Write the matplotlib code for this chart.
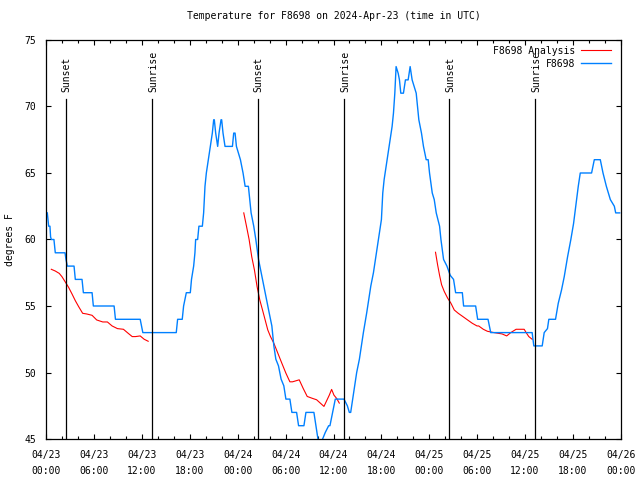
import numpy as np
import matplotlib
matplotlib.use("Agg")
import matplotlib.pyplot as plt
from matplotlib.ticker import MultipleLocator

# hours since 2024-04-23 00:00 UTC
obs_hours = [0.13, 0.3, 0.46, 0.54, 0.63, 0.96, 1.13, 2.35, 2.47, 2.64, 3.48, 3.64, 4.48, 4.65,
             5.74, 5.9, 8.5, 8.67, 11.77, 12.1, 16.29, 16.46, 17.04, 17.21, 17.55, 18.05, 18.2,
             18.47, 18.63, 18.72, 18.97, 19.13, 19.56, 19.72, 19.89, 20.06, 20.31, 20.56, 20.81,
             20.98, 21.06, 21.23, 21.48, 21.65, 21.9, 21.98, 22.15, 22.4, 23.33, 23.49, 23.66,
             23.83, 24.08, 24.33, 24.66, 24.92, 25.33, 25.5, 25.67, 26.0, 26.26, 26.6, 26.93,
             27.26, 27.6, 27.93, 28.27, 28.52, 28.77, 29.1, 29.43, 29.77, 30.03, 30.53, 30.78,
             31.37, 31.62, 32.29, 32.54, 33.54, 33.79, 34.05, 34.3, 34.63, 34.97, 35.39, 35.55,
             35.89, 36.22, 37.31, 37.73, 37.98, 38.15, 38.4, 38.65, 38.9, 39.24, 39.49, 39.74,
             40.16, 40.41, 40.67, 41.0, 41.25, 41.5, 41.75, 42.0, 42.17, 42.34, 42.59, 42.84,
             43.09, 43.34, 43.51, 43.68, 43.84, 44.1, 44.26, 44.43, 44.76, 45.01, 45.35, 45.6,
             45.85, 46.1, 46.36, 46.52, 46.69, 47.02, 47.27, 47.61, 47.86, 48.03, 48.37, 48.62,
             48.87, 49.29, 49.46, 49.79, 50.21, 50.63, 51.04, 51.3, 52.14, 52.3, 53.81, 54.06,
             55.36, 55.7, 60.89, 61.1, 62.15, 62.4, 62.81, 62.98, 63.82, 64.16, 64.57, 64.91,
             65.33, 65.74, 66.08, 66.5, 66.67, 66.92, 68.34, 68.51, 68.68, 69.43, 69.77, 70.19,
             70.69, 71.19, 71.36, 71.86]
obs_temp = [62, 61, 61, 60.2, 60, 60, 59, 59, 58.5, 58, 58, 57, 57, 56,
            56, 55, 55, 54, 54, 53, 53, 54, 54, 55, 56, 56, 57,
            58, 59, 60, 60, 61, 61, 62, 64, 65, 66, 67, 68,
            69, 69, 68, 67, 68, 69, 69, 68, 67, 67, 68, 68,
            67, 66.5, 66, 65, 64, 64, 63, 62, 61, 60, 58.5, 57.5,
            56.5, 55.5, 54.5, 53.5, 52, 51, 50.5, 49.5, 49, 48, 48, 47,
            47, 46, 46, 47, 47, 46, 45, 44, 45, 45.5, 46, 46,
            47, 48, 48, 47.5, 47, 47, 48, 49, 50, 51, 52, 53,
            54.5, 55.5, 56.5, 57.5, 58.5, 59.5, 60.5, 61.5, 63.5, 64.5, 65.5, 66.5,
            67.5, 68.5, 69.5, 71, 73, 72.5, 72, 71, 71, 72, 72, 73,
            72, 71.5, 71, 70, 69, 68, 67, 66, 66, 65, 63.5, 63,
            62, 61, 60, 58.5, 58, 57.3, 57, 56, 56, 55, 55, 54,
            54, 53, 53, 52, 52, 53, 53.3, 54, 54, 55.2, 56.2, 57.2,
            58.7, 60, 61.2, 63.2, 64, 65, 65, 65.5, 66, 66, 65, 64,
            63, 62.5, 62, 62]

# analysis curve, nan separates the three nightly runs
ana_hours = [0.63, 1.13, 1.63, 1.97, 2.39, 2.8, 3.23, 3.64, 4.06, 4.56, 5.07, 5.74, 6.32, 7.08,
             7.66, 8.25, 8.92, 9.67, 10.26, 10.77, 11.18, 11.77, 12.27, 12.77, np.nan,
             24.75, 25.09, 25.42, 25.75, 26.09, 26.42, 26.76, 27.1, 27.43, 27.76, 28.1, 28.52,
             29.02, 29.52, 30.03, 30.53, 30.86, 31.7, 32.2, 32.7, 33.38, 33.88, 34.8, 35.47,
             35.76, 36.05, 36.39, 36.72, np.nan,
             48.78, 49.04, 49.29, 49.54, 49.87, 50.29, 50.72, 51.13, 51.63, 52.22, 52.8, 53.39,
             53.98, 54.19, 54.77, 55.28, 56.11, 57.12, 57.7, 58.21, 58.88, 59.89, 60.14, 60.47,
             60.89]
ana_temp = [57.76, 57.63, 57.45, 57.2, 56.8, 56.4, 55.9, 55.4, 54.95, 54.45, 54.4, 54.3, 53.95, 53.8,
            53.8, 53.5, 53.3, 53.25, 52.95, 52.7, 52.7, 52.75, 52.5, 52.35, np.nan,
            62, 61, 60, 58.7, 57.7, 56.45, 55.45, 54.7, 53.95, 53.2, 52.7, 52.2,
            51.45, 50.7, 49.95, 49.3, 49.3, 49.45, 48.8, 48.2, 48.05, 47.95, 47.45, 48.3,
            48.73, 48.3, 48.05, 47.7, np.nan,
            59.04, 58.1, 57.3, 56.6, 56.1, 55.6, 55.2, 54.7, 54.45, 54.2, 53.95, 53.7,
            53.5, 53.5, 53.25, 53.1, 53.0, 52.9, 52.75, 53.0, 53.25, 53.25, 53.0, 52.7,
            52.5]

sun_hours = [2.48, 13.28, 26.5, 37.35, 50.52, 61.3]
sun_names = ["Sunset", "Sunrise", "Sunset", "Sunrise", "Sunset", "Sunrise"]

tick_hours = list(range(0, 73, 6))
tick_labels = ["04/23\n00:00", "04/23\n06:00", "04/23\n12:00", "04/23\n18:00",
               "04/24\n00:00", "04/24\n06:00", "04/24\n12:00", "04/24\n18:00",
               "04/25\n00:00", "04/25\n06:00", "04/25\n12:00", "04/25\n18:00",
               "04/26\n00:00"]

plt.rcParams['font.family'] = ['DejaVu Sans Mono']
plt.rcParams['font.size'] = 7

fig = plt.figure(figsize=(6.4, 4.8), dpi=100)
ax = fig.add_axes([0.0723, 0.0854, 0.8977, 0.8313])

red_line, = ax.plot(ana_hours, ana_temp, color='#ff0000', lw=0.8)
blue_line, = ax.plot(obs_hours, obs_temp, color='#0080ff', lw=1.0)

for h, name in zip(sun_hours, sun_names):
    ax.plot([h, h], [45, 70.6], color='black', lw=0.9)
    ax.text(h + 0.1, 71.1, name, rotation=90, ha='center', va='bottom')

ax.set_xlim(0, 72)
ax.set_ylim(45, 75)
ax.set_xticks(tick_hours)
ax.set_xticklabels(tick_labels, linespacing=1.7)
ax.xaxis.set_minor_locator(MultipleLocator(2))
ax.set_yticks(range(45, 76, 5))
ax.tick_params(which='both', direction='in', top=True, right=True, width=0.8)
ax.tick_params(which='major', length=3.5)
ax.tick_params(axis='x', which='major', pad=8)
ax.tick_params(axis='y', which='major', pad=7)
ax.tick_params(which='minor', length=2)
for s in ax.spines.values():
    s.set_linewidth(0.9)

ax.set_ylabel("degrees F", labelpad=7)
ax.set_title("Temperature for F8698 on 2024-Apr-23 (time in UTC)", pad=15, fontsize=7)
ax.legend([red_line, blue_line], ["F8698 Analysis", "F8698"], loc='upper right',
          bbox_to_anchor=(0.993, 1.0), frameon=False, markerfirst=False,
          handlelength=3.1, handletextpad=0.6, borderaxespad=0.2,
          labelspacing=0.3, fontsize=7)

fig.savefig("out.png", dpi=100)
